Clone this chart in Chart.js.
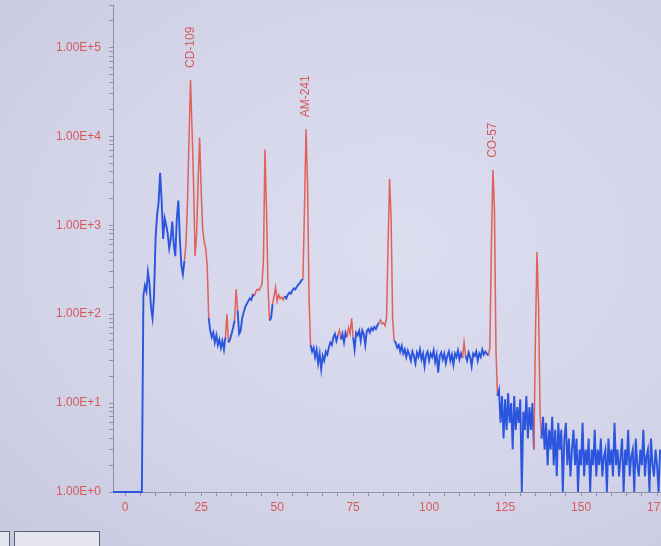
<!DOCTYPE html>
<html lang="en">
<head>
<meta charset="UTF-8">
<style>
    * { margin: 0; padding: 0; box-sizing: border-box; }
    html, body {
        width: 661px;
        height: 546px;
        overflow: hidden;
    }
    body {
        background: radial-gradient(ellipse at 60% 45%, #dcddef 0%, #d3d4e8 60%, #c8c9df 100%);
        position: relative;
    }
    #spectrum {
        position: absolute;
        left: 0;
        top: 0;
    }
    .tool-btn {
        position: absolute;
        top: 531px;
        height: 22px;
        border: 1px solid #5a5d6c;
        background: #e4e5f0;
    }
</style>
</head>
<body>
    <canvas id="spectrum" width="661" height="546"></canvas>
    <div class="tool-btn" style="left:-8px; width:18px;"></div>
    <div class="tool-btn" style="left:14px; width:86px;"></div>

    <script src="https://cdn.jsdelivr.net/npm/chart.js@4"></script>
    <script>
        // spectrum counts, one value every 0.5 on the energy axis, first one at -4.0
        const startEnergy = -4.0;
        const energyStep = 0.5;
        const counts = [
            1, 1, 1, 1, 1, 1, 1, 1, 1, 1,                              // -4.0
            1, 1, 1, 1, 1, 1, 1, 1, 1, 1,                              // 1.0
            160, 210, 180, 300, 220, 120, 90, 160, 700, 1300,          // 6.0
            1800, 3900, 1900, 700, 1200, 1000, 800, 550, 700, 1100,    // 11.0
            600, 450, 1200, 1900, 700, 350, 280, 400, 600, 1800,       // 16.0
            9000, 43000, 12000, 3000, 450, 800, 3000, 9700, 2500, 900, // 21.0
            650, 550, 350, 90, 65, 55, 62, 48, 58, 45,                 // 26.0
            52, 42, 50, 40, 55, 100, 48, 52, 60, 70,                   // 31.0
            85, 190, 110, 60, 65, 90, 105, 120, 130, 140,              // 36.0
            150, 145, 165, 160, 180, 190, 185, 200, 215, 400,          // 41.0
            7100, 1500, 200, 85, 90, 130, 160, 200, 140, 165,          // 46.0
            150, 155, 145, 160, 150, 165, 175, 170, 185, 195,          // 51.0
            190, 205, 215, 225, 240, 250, 1500, 12000, 3000, 150,      // 56.0
            45, 38, 42, 33, 40, 28, 36, 24, 34, 30,                    // 61.0
            38, 35, 42, 48, 45, 55, 60, 50, 58, 66,                    // 66.0
            52, 60, 48, 62, 55, 70, 60, 90, 55, 40,                    // 71.0
            62, 58, 65, 50, 66, 60, 45, 64, 68, 62,                    // 76.0
            70, 66, 72, 68, 75, 80, 86, 78, 80, 74,                    // 81.0
            90, 600, 3300, 1200, 90, 50, 48, 42, 45, 38,               // 86.0
            44, 36, 40, 33, 39, 35, 30, 38, 34, 28,                    // 91.0
            37, 33, 40, 31, 36, 26, 35, 38, 30, 36,                    // 96.0
            33, 39, 29, 35, 22, 34, 37, 31, 36, 28,                    // 101.0
            34, 38, 30, 35, 27, 36, 33, 39, 31, 36,                    // 106.0
            32, 48, 34, 30, 37, 33, 26, 36, 34, 38,                    // 111.0
            30, 36, 33, 40, 35, 38, 36, 34, 42, 600,                   // 116.0
            4200, 1500, 40, 12, 14, 6, 12, 4, 11, 5,                   // 121.0
            13, 6, 10, 3, 12, 5, 9, 6, 11, 1,                          // 126.0
            8, 5, 12, 4, 9, 5, 10, 3, 60, 500,                         // 131.0
            130, 8, 4, 7, 3, 6, 2, 5, 3, 7,                            // 136.0
            2, 5, 1.5, 6, 3, 5, 1, 4, 6, 2,                            // 141.0
            4, 1.5, 3, 5, 2, 4, 1, 3, 2, 6,                            // 146.0
            1.5, 3, 2, 4, 1, 3, 2, 5, 1.5, 3,                          // 151.0
            2, 4, 1.5, 2.5, 3, 1, 4, 2, 3, 1.5,                        // 156.0
            6, 2, 3, 1.5, 2.5, 4, 1, 3, 2, 5,                          // 161.0
            1.5, 2.5, 3, 1, 4, 2, 1.5, 3, 2, 5,                        // 166.0
            1.5, 2.5, 3, 1, 4, 2, 1.5, 3, 2, 1,                        // 171.0
            3                                                          // 176.0
        ];

        // regions of interest drawn in red
        const roiRanges = [
            [19.75, 27.25], [33.2, 33.8], [36.2, 36.8], [42.7, 47.3],
            [48.7, 52.3], [58.7, 60.8], [70.2, 70.8], [73.2, 74.8],
            [83.7, 88.3], [111.2, 111.8], [119.7, 122.3], [134.7, 136.8]
        ];

        const peakNames = ['CD-109', 'AM-241', 'CO-57'];
        const peakEnergies = [21.5, 59.5, 121.0];

        const xTicks = [0, 5, 10, 15, 20, 25, 30, 35, 40, 45, 50, 55, 60, 65, 70, 75, 80, 85,
                        90, 95, 100, 105, 110, 115, 120, 125, 130, 135, 140, 145, 150, 155, 160,
                        165, 170, 175];
        const xTickLabels = [0, 25, 50, 75, 100, 125, 150, 175];
        const yTicks = [1, 10, 100, 1000, 10000, 100000];
        const yTickLabels = ['1.00E+0', '1.00E+1', '1.00E+2', '1.00E+3', '1.00E+4', '1.00E+5'];

        const BLUE = '#2b55de';
        const RED = '#e0605a';
        const LABEL_RED = '#d65a5a';
        const AXIS_GRAY = '#8e93a8';
        const FONT = "'Liberation Sans Narrow', 'Arial Narrow', 'Liberation Sans', sans-serif";

        const points = counts.map((c, i) => ({ x: startEnergy + i * energyStep, y: c }));

        function inRoi(e) {
            return roiRanges.some(r => e >= r[0] && e <= r[1]);
        }

        function segMid(ctx) {
            return (ctx.p0.parsed.x + ctx.p1.parsed.x) / 2;
        }

        // peak names written vertically above their peaks
        const peakLabels = {
            id: 'peakLabels',
            afterDatasetsDraw(chart) {
                const c = chart.ctx;
                const xs = chart.scales.x, ys = chart.scales.y;
                c.save();
                c.fillStyle = LABEL_RED;
                c.font = '12px ' + FONT;
                c.textAlign = 'left';
                c.textBaseline = 'middle';
                peakNames.forEach((name, k) => {
                    const idx = Math.round((peakEnergies[k] - startEnergy) / energyStep);
                    const px = xs.getPixelForValue(peakEnergies[k]);
                    const py = ys.getPixelForValue(counts[idx]);
                    c.save();
                    c.translate(px, py - 12);
                    c.rotate(-Math.PI / 2);
                    c.fillText(name, 0, 0);
                    c.restore();
                });
                c.restore();
            }
        };

        new Chart(document.getElementById('spectrum'), {
            type: 'line',
            data: {
                datasets: [{
                    data: points,
                    borderColor: BLUE,
                    borderWidth: 1.8,
                    pointRadius: 0,
                    tension: 0,
                    clip: { left: 0, top: 0, right: 0, bottom: 3 },
                    segment: {
                        borderColor: ctx => inRoi(segMid(ctx)) ? RED : BLUE,
                        borderWidth: ctx => inRoi(segMid(ctx)) ? 1.5 : 1.9
                    }
                }]
            },
            options: {
                responsive: false,
                animation: false,
                parsing: false,
                layout: { padding: { top: 5, right: 0, bottom: 0, left: 0 } },
                plugins: {
                    legend: { display: false },
                    tooltip: { enabled: false }
                },
                scales: {
                    x: {
                        type: 'linear',
                        min: -4,
                        max: 176.3,
                        afterBuildTicks: s => { s.ticks = xTicks.map(v => ({ value: v })); },
                        afterFit: s => { s.height = 54; s.paddingLeft = 0; s.paddingRight = 0; },
                        ticks: {
                            color: LABEL_RED,
                            font: { family: FONT, size: 12 },
                            padding: 4,
                            autoSkip: false,
                            maxRotation: 0,
                            callback: v => xTickLabels.includes(v) ? String(v) : ''
                        },
                        grid: { drawOnChartArea: false, tickLength: 4, tickColor: AXIS_GRAY },
                        border: { color: AXIS_GRAY, width: 1 }
                    },
                    y: {
                        type: 'logarithmic',
                        min: 1,
                        max: 300000,
                        afterBuildTicks: s => {
                            const t = [];
                            yTicks.forEach(d => {
                                for (let m = 1; m <= 9; m++) {
                                    if (d * m <= 300000) t.push({ value: d * m });
                                }
                            });
                            s.ticks = t;
                        },
                        afterFit: s => { s.width = 113; s.paddingTop = 0; s.paddingBottom = 0; },
                        ticks: {
                            color: LABEL_RED,
                            font: { family: FONT, size: 12 },
                            padding: 8,
                            autoSkip: false,
                            callback: v => {
                                const i = yTicks.indexOf(v);
                                return i >= 0 ? yTickLabels[i] : '';
                            }
                        },
                        grid: { drawOnChartArea: false, tickLength: 4, tickColor: AXIS_GRAY },
                        border: { color: AXIS_GRAY, width: 1 }
                    }
                }
            },
            plugins: [peakLabels]
        });
    </script>
</body>
</html>
